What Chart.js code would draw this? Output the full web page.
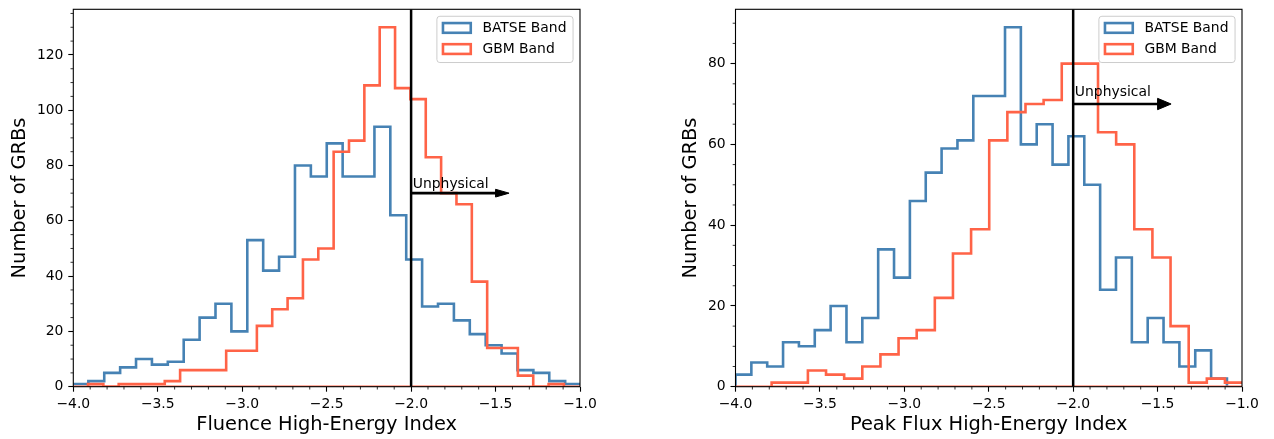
<!DOCTYPE html>
<html>
<head>
<meta charset="utf-8">
<script src="https://cdn.jsdelivr.net/npm/chart.js@4.4.1/dist/chart.umd.min.js"></script>
<style>
  html, body { margin: 0; padding: 0; background: #ffffff; }
  #wrap { position: relative; width: 1274px; height: 439px; overflow: hidden; }
  .panel { position: absolute; top: 0; width: 637px; height: 439px; }
</style>
</head>
<body>
<div id="wrap">
  <div class="panel" style="left:0"><canvas id="fluence" width="637" height="439"></canvas></div>
  <div class="panel" style="left:637px"><canvas id="peak" width="637" height="439"></canvas></div>
</div>
<script>
// ---- tick labels ----
const xTicks = [-4.0, -3.5, -3.0, -2.5, -2.0, -1.5, -1.0];
const yTicksFluence = [0, 20, 40, 60, 80, 100, 120];
const yTicksPeak = [0, 20, 40, 60, 80];

// ---- series labels ----
const seriesNames = ['BATSE Band', 'GBM Band'];
const xTitles = ['Fluence High-Energy Index', 'Peak Flux High-Energy Index'];
const yTitle = 'Number of GRBs';
const markerText = 'Unphysical';

// ---- fluence index histograms (counts per bin, uniform bins) ----
const fluenceBatseStart = -4.005;
const fluenceBatseWidth = 0.0941;
const fluenceBatseCounts = [1, 2, 5, 7, 10, 8, 9, 17, 25, 30, 20, 53, 42, 47, 80, 76,
                            88, 76, 76, 94, 62, 46, 29, 30, 24, 19, 15, 12, 6, 5, 2, 1];

const fluenceGbmStart = -3.913;
const fluenceGbmWidth = 0.0909;
const fluenceGbmCounts = [1, 0, 1, 1, 1, 2, 6, 6, 6, 13, 13, 22, 28, 32, 46, 50,
                          85, 89, 109, 130, 108, 104, 83, 70, 66, 38, 14, 14, 4, 0, 1];

// ---- peak flux index histograms ----
const peakBatseStart = -4.0;
const peakBatseWidth = 0.0939;
const peakBatseCounts = [3, 6, 5, 11, 10, 14, 20, 11, 17, 34, 27, 46, 53, 59, 61, 72,
                         72, 89, 60, 65, 55, 62, 50, 24, 32, 11, 17, 11, 5, 9, 2];

const peakGbmStart = -3.786;
const peakGbmWidth = 0.1074;
const peakGbmCounts = [1, 1, 4, 3, 2, 5, 8, 12, 14, 22, 33, 39, 61, 68, 70, 71,
                       80, 80, 63, 60, 39, 32, 15, 1, 2, 1];

// ---- physical limit marker ----
const limitIndex = -2.0;
const arrowLevel = 70;
const arrowLength = 0.5;
const arrowHeadLength = 0.08;
const arrowHeadWidth = 2.8;
const markerTextPos = { x: -1.99, y: 72 };

const BLUE = '#4682b4';
const RED = '#ff6347';
const FONT = "'DejaVu Sans', 'Liberation Sans', sans-serif";
const TICK_FS = 13.9;
const LABEL_FS = 19.4;

Chart.defaults.font.family = FONT;
Chart.defaults.color = '#000000';

// Turn bin counts into an outline traced with step segments
function histOutline(start, width, counts) {
  const pts = [{ x: start, y: 0 }];
  counts.forEach((c, i) => pts.push({ x: start + i * width, y: c }));
  const end = start + counts.length * width;
  pts.push({ x: end, y: counts[counts.length - 1] });
  pts.push({ x: end, y: 0 });
  return pts;
}

function fmtX(v) {
  return Number(v).toFixed(1).replace('-', '\u2212');
}

// Frame, minor ticks, limit line, arrow, annotation and legend
const decor = {
  id: 'decor',
  afterDatasetsDraw(chart) {
    const { ctx, chartArea: a, scales: { x, y } } = chart;
    ctx.save();

    // zero line of the GBM outline
    const y0 = y.getPixelForValue(0);
    ctx.beginPath();
    ctx.rect(a.left, a.top, a.right - a.left, a.bottom - a.top);
    ctx.clip();
    ctx.strokeStyle = RED;
    ctx.lineWidth = 2.6;
    ctx.beginPath();
    ctx.moveTo(a.left, y0);
    ctx.lineTo(a.right, y0);
    ctx.stroke();

    // vertical limit line
    const xl = x.getPixelForValue(limitIndex);
    ctx.strokeStyle = '#000000';
    ctx.lineWidth = 2.5;
    ctx.beginPath();
    ctx.moveTo(xl, a.top);
    ctx.lineTo(xl, a.bottom);
    ctx.stroke();

    // arrow pointing into the unphysical region
    const ya = y.getPixelForValue(arrowLevel);
    const xe = x.getPixelForValue(limitIndex + arrowLength);
    const xt = x.getPixelForValue(limitIndex + arrowLength + arrowHeadLength);
    const hw = Math.abs(y.getPixelForValue(arrowLevel + arrowHeadWidth / 2) - ya);
    ctx.lineWidth = 2.6;
    ctx.beginPath();
    ctx.moveTo(xl, ya);
    ctx.lineTo(xe + 1, ya);
    ctx.stroke();
    ctx.fillStyle = '#000000';
    ctx.lineWidth = 1;
    ctx.beginPath();
    ctx.moveTo(xe, ya - hw);
    ctx.lineTo(xt, ya);
    ctx.lineTo(xe, ya + hw);
    ctx.closePath();
    ctx.fill();
    ctx.stroke();
    ctx.restore();

    ctx.save();
    ctx.font = `${TICK_FS}px ${FONT}`;
    ctx.fillStyle = '#000000';
    ctx.textAlign = 'left';
    ctx.textBaseline = 'alphabetic';
    ctx.fillText(markerText, x.getPixelForValue(markerTextPos.x), y.getPixelForValue(markerTextPos.y));

    // axes frame
    ctx.strokeStyle = '#000000';
    ctx.lineWidth = 1.1;
    ctx.strokeRect(a.left, a.top, a.right - a.left, a.bottom - a.top);

    // minor ticks
    ctx.lineWidth = 0.8;
    ctx.beginPath();
    for (let k = -40; k <= -10; k++) {
      if (k % 5 === 0) continue;
      const px = x.getPixelForValue(k / 10);
      ctx.moveTo(px, a.bottom);
      ctx.lineTo(px, a.bottom + 2.8);
    }
    for (let v = 5; v < y.max; v += 5) {
      if (v % 20 === 0) continue;
      const py = y.getPixelForValue(v);
      ctx.moveTo(a.left, py);
      ctx.lineTo(a.left - 2.8, py);
    }
    ctx.stroke();

    // legend
    const fs = TICK_FS;
    const entries = [{ label: seriesNames[0], color: BLUE }, { label: seriesNames[1], color: RED }];
    const textW = Math.max(...entries.map(e => ctx.measureText(e.label).width));
    const pad = 0.4 * fs, handleL = 2 * fs, handleH = 0.7 * fs, gap = 0.8 * fs;
    const w = pad + handleL + gap + textW + pad + 2;
    const h = 3.33 * fs;
    const lx = a.right - 0.5 * fs - w;
    const ly = a.top + 0.5 * fs;
    const r = 3;
    ctx.beginPath();
    ctx.moveTo(lx + r, ly);
    ctx.lineTo(lx + w - r, ly);
    ctx.arcTo(lx + w, ly, lx + w, ly + r, r);
    ctx.lineTo(lx + w, ly + h - r);
    ctx.arcTo(lx + w, ly + h, lx + w - r, ly + h, r);
    ctx.lineTo(lx + r, ly + h);
    ctx.arcTo(lx, ly + h, lx, ly + h - r, r);
    ctx.lineTo(lx, ly + r);
    ctx.arcTo(lx, ly, lx + r, ly, r);
    ctx.closePath();
    ctx.fillStyle = 'rgba(255,255,255,0.8)';
    ctx.fill();
    ctx.strokeStyle = '#cccccc';
    ctx.lineWidth = 1;
    ctx.stroke();
    entries.forEach((e, i) => {
      const cy = ly + 0.84 * fs + i * 1.52 * fs;
      ctx.strokeStyle = e.color;
      ctx.lineWidth = 2.6;
      ctx.strokeRect(lx + pad + 0.5, cy - handleH / 2, handleL, handleH);
      ctx.fillStyle = '#000000';
      ctx.textBaseline = 'middle';
      ctx.fillText(e.label, lx + pad + handleL + gap + 1, cy);
    });
    ctx.restore();
  }
};

function makeChart(id, spec) {
  const ds = (label, color, pts, order) => ({
    label, data: pts, borderColor: color, borderWidth: 2.6, stepped: 'before',
    pointRadius: 0, fill: false, tension: 0, clip: 0, order,
    borderJoinStyle: 'miter', borderCapStyle: 'butt'
  });
  return new Chart(document.getElementById(id), {
    type: 'line',
    data: {
      datasets: [
        ds(seriesNames[1], RED, histOutline(spec.gbm[0], spec.gbm[1], spec.gbm[2]), 1),
        ds(seriesNames[0], BLUE, histOutline(spec.batse[0], spec.batse[1], spec.batse[2]), 2)
      ]
    },
    options: {
      responsive: false,
      animation: false,
      events: [],
      layout: { padding: { left: 0, right: spec.padRight, top: 9.3, bottom: 0 } },
      plugins: { legend: { display: false }, tooltip: { enabled: false } },
      scales: {
        x: {
          type: 'linear', min: -4, max: -1,
          afterBuildTicks: s => { s.ticks = xTicks.map(v => ({ value: v })); },
          afterFit: s => { s.height = 52.3; s.paddingLeft = 0; s.paddingRight = 0; },
          ticks: { callback: v => fmtX(v), font: { size: TICK_FS }, color: '#000', padding: 4.5, maxRotation: 0, autoSkip: false },
          grid: { display: true, drawOnChartArea: false, drawTicks: true, tickLength: 5, tickWidth: 1.1, tickColor: '#000' },
          border: { display: false },
          title: { display: true, text: spec.xTitle, font: { size: LABEL_FS }, color: '#000', padding: { top: 0, bottom: 2.8 } }
        },
        y: {
          type: 'linear', min: 0, max: spec.yMax,
          afterBuildTicks: s => { s.ticks = spec.yTicks.map(v => ({ value: v })); },
          afterFit: s => { s.width = spec.yWidth; s.paddingTop = 0; s.paddingBottom = 0; },
          ticks: { callback: v => String(v), font: { size: TICK_FS }, color: '#000', padding: 4.9, autoSkip: false },
          grid: { display: true, drawOnChartArea: false, drawTicks: true, tickLength: 5, tickWidth: 1.1, tickColor: '#000' },
          border: { display: false },
          title: { display: true, text: yTitle, font: { size: LABEL_FS }, color: '#000', padding: { top: spec.yTitlePad, bottom: 0 } }
        }
      }
    },
    plugins: [decor]
  });
}

makeChart('fluence', {
  xTitle: xTitles[0], yTicks: yTicksFluence, yMax: 136.5,
  yWidth: 73.3, padRight: 57, yTitlePad: 8.8,
  batse: [fluenceBatseStart, fluenceBatseWidth, fluenceBatseCounts],
  gbm: [fluenceGbmStart, fluenceGbmWidth, fluenceGbmCounts]
});

makeChart('peak', {
  xTitle: xTitles[1], yTicks: yTicksPeak, yMax: 93.45,
  yWidth: 98.5, padRight: 32, yTitlePad: 41.9,
  batse: [peakBatseStart, peakBatseWidth, peakBatseCounts],
  gbm: [peakGbmStart, peakGbmWidth, peakGbmCounts]
});
</script>
</body>
</html>
